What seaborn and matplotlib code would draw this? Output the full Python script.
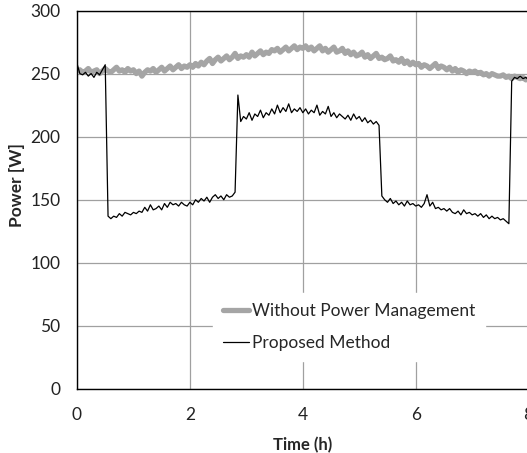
import numpy as np
import pandas as pd
import matplotlib
matplotlib.use("Agg")
import matplotlib.pyplot as plt
import seaborn as sns

# sample times (h), one sample every 3 minutes
time_h = np.round(np.arange(0, 8.001, 0.05), 2)

# power without power management [W]
power_without = [
    252, 253, 251, 252, 254, 251, 252, 253, 250, 252,
    254, 252, 251, 253, 255, 252, 253, 251, 254, 252,
    253, 250, 252, 248, 251, 253, 252, 254, 251, 253,
    255, 252, 254, 256, 253, 255, 257, 254, 256, 255,
    257, 255, 258, 256, 259, 257, 260, 262, 258, 261,
    263, 260, 262, 264, 261, 263, 266, 262, 264, 263,
    265, 263, 267, 264, 266, 268, 265, 267, 266, 269,
    268, 270, 267, 269, 271, 268, 270, 272, 269, 271,
    270, 272, 269, 271, 268, 270, 272, 268, 270, 267,
    269, 271, 267, 268, 270, 266, 268, 265, 267, 264,
    265, 267, 263, 265, 262, 264, 266, 262, 263, 261,
    262, 264, 260, 261, 259, 262, 258, 260, 257, 259,
    257, 258, 255, 257, 256, 254, 256, 258, 254, 256,
    255, 253, 255, 252, 254, 251, 253, 252, 250, 252,
    251, 252, 250, 251, 249, 250, 248, 250, 249, 248,
    248, 249, 247, 248, 246, 248, 247, 246, 247, 245,
    246,
]

# power with the proposed method [W]
power_proposed = [
    258, 250, 249, 251, 248, 250, 247, 251, 249, 253,
    257, 137, 135, 137, 136, 139, 137, 140, 139, 138,
    140, 139, 141, 140, 144, 141, 146, 142, 143, 145,
    142, 147, 144, 148, 146, 147, 145, 148, 146, 145,
    148, 146, 150, 148, 151, 149, 152, 148, 152, 154,
    151, 153, 150, 154, 152, 153, 156, 233, 212, 216,
    214, 219, 213, 218, 216, 221, 215, 219, 217, 222,
    218, 225, 219, 223, 220, 226, 219, 222, 220, 223,
    219, 222, 218, 221, 219, 225, 217, 220, 218, 224,
    216, 219, 215, 218, 216, 214, 217, 213, 218, 214,
    216, 212, 215, 211, 213, 210, 212, 209, 153, 150,
    148, 151, 147, 149, 146, 148, 145, 149, 146, 147,
    145, 146, 144, 147, 154, 145, 148, 143, 144, 142,
    143, 141, 143, 140, 139, 141, 138, 142, 139, 140,
    138, 139, 137, 139, 136, 138, 135, 137, 135, 136,
    134, 135, 133, 131, 244, 247, 246, 248, 246, 247,
    245,
]

series_names = ["Without Power Management", "Proposed Method"]

df = pd.DataFrame({
    "Time (h)": np.concatenate([time_h, time_h]),
    "Power [W]": power_without + power_proposed,
    "series": [series_names[0]] * len(time_h) + [series_names[1]] * len(time_h),
})

sns.set_style("white")
plt.rcParams["font.family"] = ["Lato", "DejaVu Sans"]

fig = plt.figure(figsize=(5.27, 4.53), dpi=100)
ax = fig.add_axes([0.1461, 0.1413, 0.857, 0.8355])

sns.lineplot(data=df, x="Time (h)", y="Power [W]", hue="series", size="series",
             palette=["#a5a5a5", "black"], sizes=[3.8, 0.9],
             ax=ax, legend=True)

ax.set_xlim(0, 8)
ax.set_ylim(0, 300)
ax.set_xticks([0, 2, 4, 6, 8])
ax.set_yticks([0, 50, 100, 150, 200, 250, 300])
ax.grid(True, color="#a0a0a0", linewidth=0.9)
ax.set_axisbelow(True)

for side in ["left", "bottom", "top"]:
    ax.spines[side].set_color("black")
    ax.spines[side].set_linewidth(1.0)
ax.spines["right"].set_visible(False)

ax.tick_params(axis="both", direction="out", length=5, width=0.9, color="black",
               labelsize=12.5, labelcolor="#222222")
ax.tick_params(axis="x", pad=8)
ax.tick_params(axis="y", pad=7)

ax.set_xlabel("Time (h)", fontsize=12, fontweight="bold")
ax.set_ylabel("Power [W]", fontsize=12.5, fontweight="bold")
ax.yaxis.set_label_coords(-0.115, 0.54)
ax.xaxis.set_label_coords(0.5, -0.128)

leg = ax.legend(loc="center", bbox_to_anchor=(0.602, 0.164), frameon=True,
                fontsize=12.5, handlelength=1.5, handletextpad=0.15,
                labelspacing=0.9, borderpad=0.6)
leg.get_frame().set_facecolor("white")
leg.get_frame().set_edgecolor("white")
leg.get_frame().set_alpha(1)

fig.savefig("out.png", dpi=100)
